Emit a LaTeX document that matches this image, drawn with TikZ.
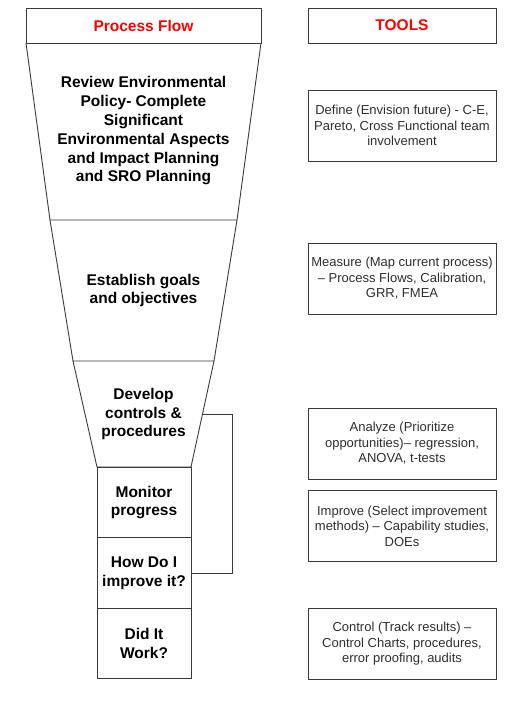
\documentclass[tikz,border=0pt]{standalone}
\usepackage{fontspec}
\setmainfont{Liberation Sans}
\usepackage{tikz}
\usetikzlibrary{positioning, calc}
\usepackage[svgnames]{xcolor}

\definecolor{linegray}{HTML}{3A3A3A}
\definecolor{toolgray}{HTML}{2E2E2E}

\begin{document}
\begin{tikzpicture}[x=1pt, y=-1pt, line width=0.9pt,
        head/.style={draw=linegray, minimum width=235, minimum height=35, inner sep=0pt,
            font=\bfseries\fontsize{15.5}{18.6}\selectfont, text=red},
        stage/.style={align=center, font=\bfseries\fontsize{15.5}{18.8}\selectfont},
        stagebox/.style={stage, draw=linegray, minimum width=94, minimum height=70.7, inner sep=0pt},
        tool/.style={draw=linegray, minimum width=188, minimum height=71, inner sep=0pt, align=center,
            text=toolgray, font=\fontsize{13}{15.6}\selectfont}]
        \useasboundingbox (0,0) rectangle (525,704);

        % headers
        \node[head] (flow) at (143.5,25.5) {Process Flow};
        \node[head, minimum width=188] (tools) at (402,25.5) {TOOLS};

        % funnel
        \draw[linegray] (26,43) -- (50,220) -- (237,220) -- (261,43);
        \draw[linegray] (50,220) -- (73,361) -- (214,361) -- (237,220);
        \draw[linegray] (73,361) -- (97,467) -- (191,467) -- (214,361);
        \coordinate (devE) at (202.5,414);

        \node[stage] (review) at (143.5,131) {Review Environmental\\Policy- Complete\\Significant\\Environmental Aspects\\and Impact Planning\\and SRO Planning};
        \node[stage] (goals) at (143.5,290.5) {Establish goals\\and objectives};
        \node[stage] (develop) at (143.5,414) {Develop\\controls \&\\procedures};
        \node[stagebox] (monitor) at (144,502.5) {Monitor\\progress};
        \node[stagebox] (howdo) at (144,573) {How Do I\\improve it?};
        \node[stagebox] (didit) at (144,643.5) {Did It\\Work?};

        % loop back
        \draw[linegray] (devE) -- ++(29.5,0) |- (howdo.east);

        % tools
        \node[tool] (define) at (402,125.5) {Define (Envision future) - C-E,\\Pareto, Cross Functional team\\involvement};
        \node[tool] (measure) at (402,278.5) {Measure (Map current process)\\-- Process Flows, Calibration,\\GRR, FMEA};
        \node[tool] (analyze) at (402,443.5) {Analyze (Prioritize\\opportunities)-- regression,\\ANOVA, t-tests};
        \node[tool] (improve) at (402,526) {Improve (Select improvement\\methods) -- Capability studies,\\DOEs};
        \node[tool] (control) at (402,644) {Control (Track results) --\\Control Charts, procedures,\\error proofing, audits};
    \end{tikzpicture}
\end{document}
